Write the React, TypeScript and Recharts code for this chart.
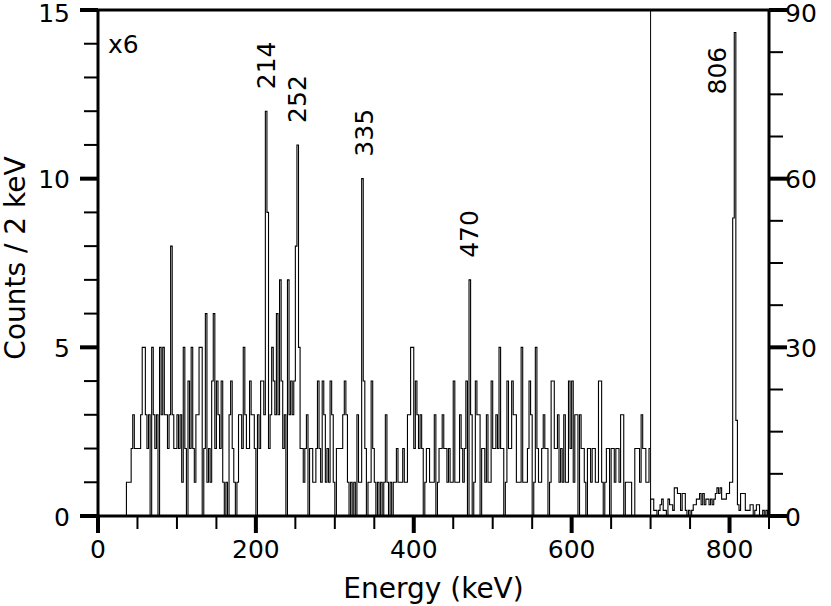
import { LineChart, Line, XAxis, YAxis, ReferenceLine, ReferenceDot } from 'recharts';

const BIN_KEV = 2;

// counts per 2 keV bin, 36-700 keV (left axis)
const LOW_START = 36;
const lowCounts = [
  1, 1, 1, 2, 3, 2, 2, 2, 2, 3,
  5, 5, 3, 2, 3, 0, 5, 3, 2, 3,
  0, 5, 3, 5, 3, 3, 2, 3, 8, 3,
  2, 2, 3, 2, 3, 1, 5, 2, 0, 4,
  2, 5, 2, 1, 3, 3, 5, 5, 0, 2,
  6, 1, 2, 1, 4, 6, 2, 4, 3, 2,
  4, 1, 0, 1, 0, 3, 4, 2, 1, 0,
  1, 3, 3, 2, 5, 3, 2, 2, 4, 3,
  3, 2, 0, 3, 2, 4, 4, 3, 12, 9,
  2, 3, 5, 4, 3, 6, 3, 7, 4, 2,
  3, 0, 7, 3, 4, 3, 4, 8, 11, 5,
  2, 2, 1, 2, 3, 0, 2, 2, 1, 1,
  2, 4, 2, 1, 4, 3, 1, 2, 1, 4,
  3, 1, 0, 2, 2, 2, 2, 3, 4, 3,
  1, 0, 1, 0, 1, 0, 3, 1, 1, 10,
  4, 2, 0, 1, 1, 4, 2, 1, 0, 1,
  0, 1, 0, 1, 3, 1, 0, 1, 0, 1,
  1, 2, 1, 1, 1, 2, 1, 1, 3, 3,
  5, 5, 2, 4, 3, 2, 3, 2, 0, 1,
  2, 2, 1, 1, 1, 3, 0, 1, 2, 2,
  3, 2, 2, 1, 2, 1, 1, 4, 1, 1,
  1, 3, 2, 1, 2, 4, 0, 7, 3, 0,
  1, 4, 3, 3, 0, 2, 2, 1, 3, 1,
  1, 4, 2, 2, 3, 2, 5, 2, 2, 0,
  1, 4, 2, 2, 4, 3, 3, 1, 1, 1,
  5, 1, 1, 1, 2, 4, 3, 0, 1, 5,
  2, 1, 1, 2, 3, 2, 2, 0, 1, 4,
  4, 2, 2, 3, 1, 2, 1, 3, 1, 1,
  4, 2, 4, 1, 3, 3, 0, 3, 2, 2,
  1, 0, 2, 2, 1, 2, 2, 1, 1, 4,
  4, 1, 0, 1, 2, 2, 0, 2, 2, 1,
  2, 2, 1, 3, 3, 0, 1, 1, 1, 1,
  0, 0, 2, 2, 2, 1, 3, 2, 2, 1,
  1, 2,
];

// counts per 2 keV bin, 700-850 keV (right axis)
const HIGH_START = 700;
const highCounts = [
  3, 3, 1, 1, 0, 1, 2, 3, 1, 1,
  0, 3, 2, 2, 1, 5, 5, 4, 4, 1,
  4, 4, 1, 0, 1, 0, 1, 2, 2, 3,
  3, 4, 2, 4, 2, 3, 3, 2, 3, 2,
  3, 4, 5, 4, 5, 3, 3, 3, 4, 4,
  6, 6, 53, 86, 17, 2, 1, 4, 4, 4,
  1, 1, 1, 2, 2, 0, 1, 2, 2, 0,
  0, 1, 0, 1, 0,
];

const xTicks = [0, 50, 100, 150, 200, 250, 300, 350, 400, 450, 500, 550, 600, 650, 700, 750, 800, 850];
const leftTicks = [0, 1, 2, 3, 4, 5, 6, 7, 8, 9, 10, 11, 12, 13, 14, 15];
const rightTicks = [0, 7.5, 15, 22.5, 30, 37.5, 45, 52.5, 60, 67.5, 75, 82.5, 90];

const peakNames = ['214', '252', '335', '470'];
const peakEnergies = [213, 253, 337, 471];
const peakTops = [12, 11, 10, 7];

const toSteps = (start: number, counts: number[], end: number) => [
  { e: start, c: 0 },
  ...counts.map((c, i) => ({ e: start + i * BIN_KEV, c })),
  { e: end, c: counts[counts.length - 1] },
];

const lowData = toSteps(LOW_START, lowCounts, 700);
const highData = toSteps(HIGH_START, highCounts, HIGH_START + highCounts.length * BIN_KEV);

const FONT = 'DejaVu Sans';

function XTick({ x, y, payload }: any) {
  const major = payload.value % 200 === 0;
  return (
    <g>
      <line x1={x} x2={x} y1={y} y2={y + (major ? 17 : 13)} stroke="#000" strokeWidth={major ? 4 : 2} />
      {major && (
        <text x={x} y={y + 42} textAnchor="middle" fontSize={25} fontFamily={FONT} fill="#000">
          {payload.value}
        </text>
      )}
    </g>
  );
}

function LeftTick({ x, y, payload }: any) {
  const major = payload.value % 5 === 0;
  const top = payload.value === 15;
  return (
    <g>
      <line x1={x} x2={x - (major ? 18 : 14)} y1={y} y2={y} stroke="#000" strokeWidth={major ? 4 : 2} />
      {major && (
        <text x={x - 28} y={y} dy={top ? '0.46em' : '0.38em'} textAnchor="end" fontSize={25} fontFamily={FONT} fill="#000">
          {payload.value}
        </text>
      )}
    </g>
  );
}

function RightTick({ x, y, payload }: any) {
  const major = payload.value % 30 === 0;
  const top = payload.value === 90;
  return (
    <g>
      <line x1={x} x2={x + (major ? 18 : 14)} y1={y} y2={y} stroke="#000" strokeWidth={major ? 4 : 2} />
      {major && (
        <text x={x + 16} y={y} dy={top ? '0.46em' : '0.38em'} textAnchor="start" fontSize={25} fontFamily={FONT} fill="#000">
          {payload.value}
        </text>
      )}
    </g>
  );
}

function PeakLabel({ viewBox, text, dx = 0, dy = -22 }: any) {
  const cx = viewBox.x + viewBox.width / 2 + dx;
  const cy = viewBox.y + viewBox.height / 2 + dy;
  return (
    <text transform={`translate(${cx},${cy}) rotate(-90)`} textAnchor="start" dominantBaseline="central"
      fontSize={25} fontFamily={FONT} fill="#000">
      {text}
    </text>
  );
}

function YTitle() {
  return (
    <text transform="translate(25,258) rotate(-90)" textAnchor="middle" fontSize={28} fontFamily={FONT} fill="#000">
      Counts / 2 keV
    </text>
  );
}

function XTitle({ viewBox }: any) {
  return (
    <text x={viewBox.x + viewBox.width / 2} y={598} textAnchor="middle" fontSize={28} fontFamily={FONT} fill="#000">
      Energy (keV)
    </text>
  );
}

export default function App() {
  return (
    <div style={{ position: 'absolute', left: 0, top: 0, width: 831, height: 606, background: '#fff' }}>
      <LineChart width={831} height={606} margin={{ top: 10, right: 0, bottom: 0, left: 0 }} style={{ fontFamily: FONT }}>
        <XAxis dataKey="e" type="number" domain={[0, 850]} ticks={xTicks} interval={0} allowDataOverflow
          height={90} tickSize={0} tickMargin={0} tickLine={false} tick={<XTick />}
          axisLine={{ stroke: '#000', strokeWidth: 3 }} label={<XTitle />} />
        <YAxis yAxisId="left" orientation="left" domain={[0, 15]} ticks={leftTicks} interval={0} width={98}
          tickSize={0} tickMargin={0} tickLine={false} tick={<LeftTick />}
          axisLine={{ stroke: '#000', strokeWidth: 3 }} label={<YTitle />} />
        <YAxis yAxisId="right" orientation="right" domain={[0, 90]} ticks={rightTicks} interval={0} width={62}
          tickSize={0} tickMargin={0} tickLine={false} tick={<RightTick />}
          axisLine={{ stroke: '#000', strokeWidth: 3 }} />
        <ReferenceLine yAxisId="left" y={15} stroke="#000" strokeWidth={3} />
        <ReferenceLine yAxisId="left" x={700} stroke="#000" strokeWidth={1} />
        <Line yAxisId="left" data={lowData} dataKey="c" type="stepAfter" stroke="#000" strokeWidth={1.1}
          dot={false} isAnimationActive={false} />
        <Line yAxisId="right" data={highData} dataKey="c" type="stepAfter" stroke="#000" strokeWidth={1.1}
          dot={false} isAnimationActive={false} />
        {peakNames.map((name, i) => (
          <ReferenceDot key={name} yAxisId="left" x={peakEnergies[i]} y={peakTops[i]} r={1}
            fill="none" stroke="none" label={<PeakLabel text={name} />} />
        ))}
        <ReferenceDot yAxisId="right" x={807} y={86} r={1} fill="none" stroke="none"
          label={<PeakLabel text="806" dx={-18} dy={62} />} />
      </LineChart>
      <div style={{ position: 'absolute', left: 108, top: 30, fontSize: 25, fontFamily: FONT, color: '#000' }}>x6</div>
    </div>
  );
}
